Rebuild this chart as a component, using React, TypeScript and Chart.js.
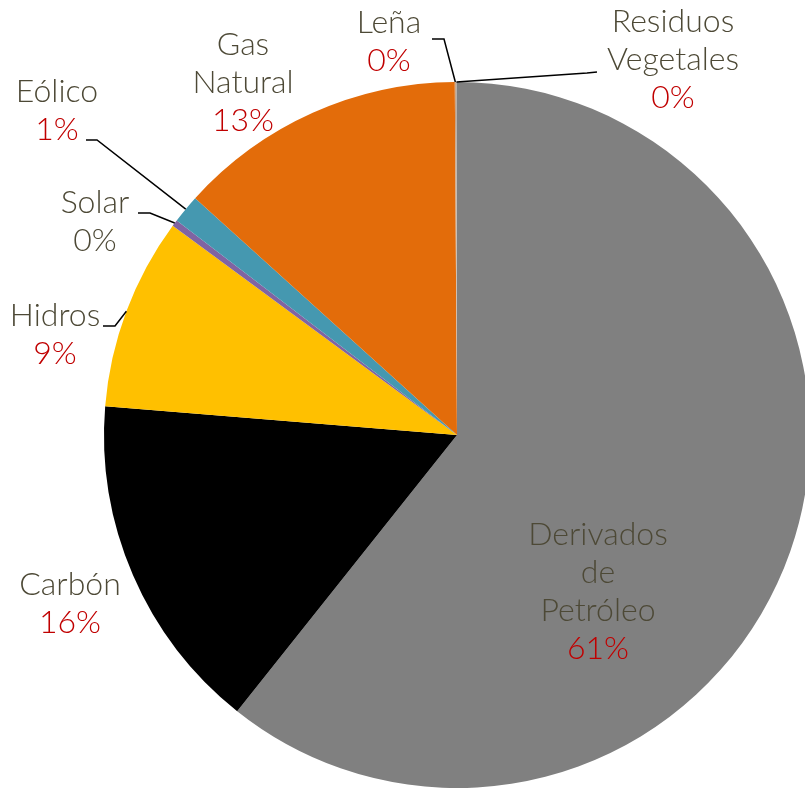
import React, { useEffect, useRef } from "react";
import { Chart, registerables } from "chart.js";

Chart.register(...registerables);

const categories = [
  "Derivados de Petróleo",
  "Carbón",
  "Hidros",
  "Solar",
  "Eólico",
  "Gas Natural",
  "Leña",
  "Residuos Vegetales",
];
const shares = [60.7, 15.6, 8.8, 0.3, 1.3, 13.2, 0.05, 0.05];
const sliceColors = [
  "#808080",
  "#000000",
  "#FFC000",
  "#8064A2",
  "#4598B0",
  "#E36C0A",
  "#C8A080",
  "#B8B0A8",
];

// layout of the label text (wrapped lines, anchor, leader elbows)
const labelLines = [
  ["Derivados", "de", "Petróleo"],
  ["Carbón"],
  ["Hidros"],
  ["Solar"],
  ["Eólico"],
  ["Gas", "Natural"],
  ["Leña"],
  ["Residuos", "Vegetales"],
];
const labelLayout = [
  { x: 598, y: 545, pctRed: true, leader: null },
  { x: 70, y: 595, pctRed: true, leader: null },
  { x: 55, y: 326, pctRed: true, leader: [[103, 326], [115, 326]] },
  { x: 95, y: 213, pctRed: false, leader: [[138, 213], [150, 213]] },
  { x: 57, y: 102, pctRed: true, leader: [[86, 140], [97, 140]] },
  { x: 243, y: 55, pctRed: true, leader: null },
  { x: 389, y: 33, pctRed: true, leader: [[432, 39], [444, 39]] },
  { x: 673, y: 32, pctRed: true, leader: [[597, 72], [587, 73]] },
];

const FONT = "300 32px Lato";
const LINE_H = 38;
const NAME_COLOR = "#4D4936";
const PCT_COLOR = "#C00000";

const labelPlugin = {
  id: "pieLabels",
  afterDatasetsDraw(chart: any) {
    const ctx = chart.ctx;
    const meta = chart.getDatasetMeta(0);
    const data = chart.data.datasets[0].data as number[];
    const total = data.reduce((a, b) => a + b, 0);
    ctx.save();
    meta.data.forEach((arc: any, i: number) => {
      const { x, y, startAngle, endAngle, outerRadius } = arc.getProps(
        ["x", "y", "startAngle", "endAngle", "outerRadius"],
        true
      );
      const lay = labelLayout[i];
      if (lay.leader) {
        const mid = (startAngle + endAngle) / 2;
        const px = x + Math.cos(mid) * outerRadius;
        const py = y + Math.sin(mid) * outerRadius;
        ctx.strokeStyle = "#000000";
        ctx.lineWidth = 1.5;
        ctx.beginPath();
        ctx.moveTo(lay.leader[0][0], lay.leader[0][1]);
        ctx.lineTo(lay.leader[1][0], lay.leader[1][1]);
        ctx.lineTo(px, py);
        ctx.stroke();
      }
      ctx.font = FONT;
      ctx.textAlign = "center";
      ctx.textBaseline = "alphabetic";
      const lines = labelLines[i];
      lines.forEach((t, k) => {
        ctx.fillStyle = NAME_COLOR;
        ctx.fillText(t, lay.x, lay.y + k * LINE_H);
      });
      const pct = Math.round((data[i] / total) * 100) + "%";
      ctx.fillStyle = lay.pctRed ? PCT_COLOR : NAME_COLOR;
      ctx.fillText(pct, lay.x, lay.y + lines.length * LINE_H);
    });
    ctx.restore();
  },
};

export default function App() {
  const ref = useRef<HTMLCanvasElement | null>(null);
  useEffect(() => {
    if (!ref.current) return;
    const chart = new Chart(ref.current, {
      type: "pie",
      data: {
        labels: categories,
        datasets: [
          {
            data: shares,
            backgroundColor: sliceColors,
            borderWidth: 0,
            radius: 353,
          } as any,
        ],
      },
      options: {
        responsive: false,
        maintainAspectRatio: false,
        animation: false,
        layout: { padding: { left: 109, right: 0, top: 81, bottom: 0 } },
        plugins: {
          legend: { display: false },
          tooltip: { enabled: false },
        },
      },
      plugins: [labelPlugin],
    });
    return () => chart.destroy();
  }, []);
  return (
    <div style={{ position: "fixed", left: 0, top: 0, width: 805, height: 789, background: "#fff" }}>
      <canvas ref={ref} width={805} height={789} style={{ display: "block" }} />
    </div>
  );
}
